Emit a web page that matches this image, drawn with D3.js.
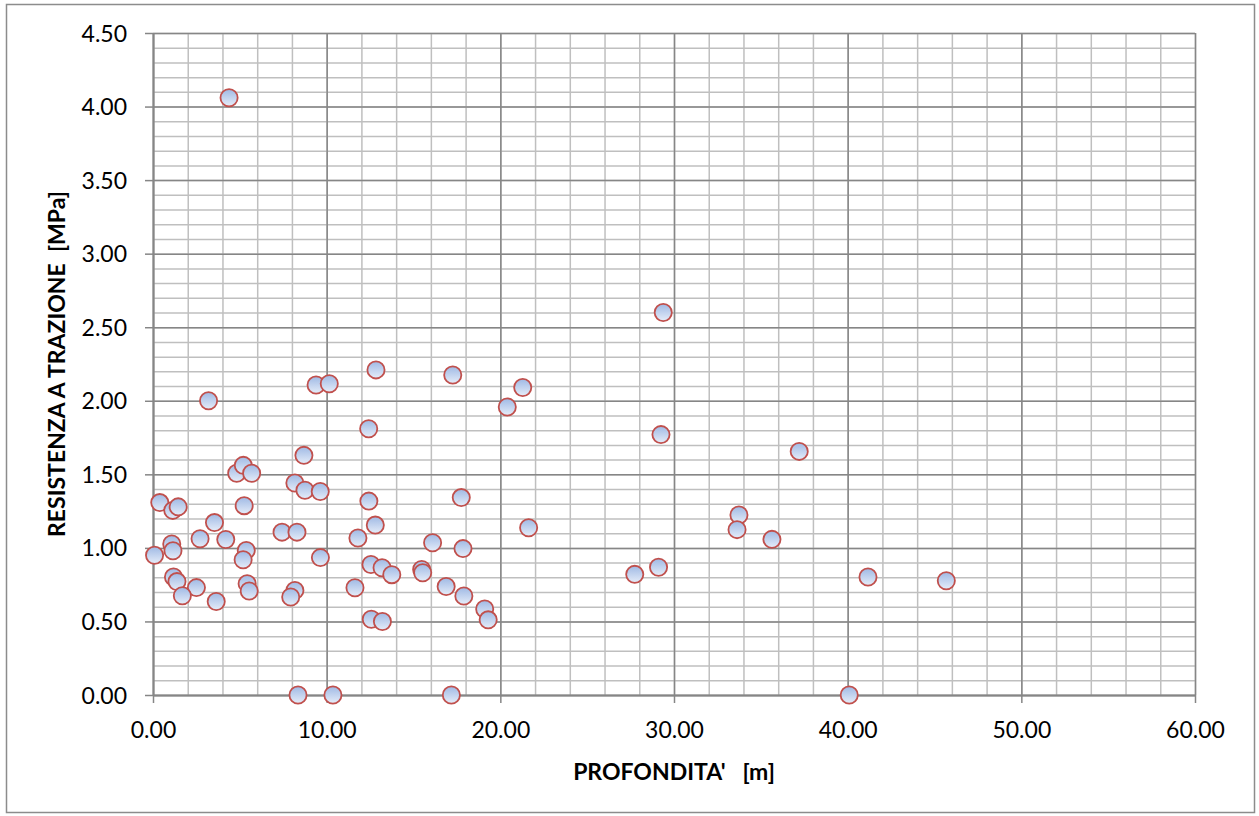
<!DOCTYPE html>
<html><head><meta charset="utf-8">
<script src="https://cdn.jsdelivr.net/npm/d3@7"></script>
<style>
html,body{margin:0;padding:0;background:#fff;}
svg{display:block;}
text{font-family:Lato,"Open Sans",sans-serif;fill:#000;}
</style></head>
<body>
<svg id="chart" width="1259" height="816"></svg>
<script>
// Data: depth [m] and tensile strength [MPa]
const depth = [4.38,29.38,12.84,17.26,9.39,10.15,21.29,3.2,20.4,12.42,29.25,37.21,8.69,4.82,5.2,5.68,8.17,8.75,9.63,17.75,
  0.39,1.14,1.45,5.25,12.43,33.74,3.54,12.8,21.63,33.63,7.43,8.29,2.71,4.19,11.8,35.64,16.1,1.08,1.15,17.85,
  0.09,5.37,5.19,9.64,12.55,13.19,29.11,13.75,15.47,15.53,27.74,41.17,45.68,1.18,1.38,2.5,1.69,3.64,5.42,5.54,
  8.17,7.93,11.63,16.88,17.9,19.1,19.3,12.57,13.21,8.35,10.36,17.18,40.09];
const strength = [4.06,2.60,2.21,2.175,2.107,2.116,2.09,2.00,1.958,1.81,1.77,1.656,1.629,1.507,1.561,1.507,1.441,1.392,1.383,1.342,
  1.308,1.255,1.279,1.287,1.318,1.224,1.172,1.155,1.137,1.124,1.107,1.107,1.062,1.057,1.067,1.058,1.035,1.026,0.981,0.995,
  0.95,0.983,0.919,0.934,0.887,0.865,0.868,0.818,0.853,0.831,0.82,0.802,0.777,0.802,0.771,0.73,0.675,0.636,0.757,0.707,
  0.711,0.666,0.729,0.738,0.673,0.585,0.511,0.515,0.5,0,0,0,0];
const xTicks = [0,10,20,30,40,50,60];
const yTicks = [0,0.5,1,1.5,2,2.5,3,3.5,4,4.5];
const xMinor = d3.range(0, 60.001, 2);
const yMinor = d3.range(0, 46).map(i => i / 10);
const xTitle = "PROFONDITA'   [m]";
const yTitle = "RESISTENZA A TRAZIONE  [MPa]";

const svg = d3.select("#chart");
const L = 153, R = 1195, T = 33, B = 695;
const x = d3.scaleLinear().domain([0, 60]).range([L, R]);
const y = d3.scaleLinear().domain([0, 4.5]).range([B, T]);

// outer border
svg.append("rect").attr("x", 6.5).attr("y", 4.5).attr("width", 1248).attr("height", 808)
  .attr("fill", "#fff").attr("stroke", "#8c8c8c").attr("stroke-width", 1.5);

const defs = svg.append("defs");
const grad = defs.append("linearGradient").attr("id", "mk").attr("x1", 0).attr("y1", 0).attr("x2", 0).attr("y2", 1);
grad.append("stop").attr("offset", "0%").attr("stop-color", "#9fb9e4");
grad.append("stop").attr("offset", "100%").attr("stop-color", "#e6edf9");

// minor grid
const gMinor = svg.append("g");
gMinor.append("g").attr("transform", `translate(0,${B})`)
  .call(d3.axisBottom(x).tickValues(xMinor).tickSize(-(B - T)).tickFormat(""))
  .call(g => { g.select(".domain").remove(); g.selectAll("line").attr("stroke", "#bfbfbf").attr("stroke-width", 1.5); });
gMinor.append("g").attr("transform", `translate(${L},0)`)
  .call(d3.axisLeft(y).tickValues(yMinor).tickSize(-(R - L)).tickFormat(""))
  .call(g => { g.select(".domain").remove(); g.selectAll("line").attr("stroke", "#bfbfbf").attr("stroke-width", 1.5); });

// major grid
const gMajor = svg.append("g");
gMajor.append("g").attr("transform", `translate(0,${B})`)
  .call(d3.axisBottom(x).tickValues(xTicks).tickSize(-(B - T)).tickFormat(""))
  .call(g => { g.select(".domain").remove(); g.selectAll("line").attr("stroke", "#868686").attr("stroke-width", 1.5); });
gMajor.append("g").attr("transform", `translate(${L},0)`)
  .call(d3.axisLeft(y).tickValues(yTicks).tickSize(-(R - L)).tickFormat(""))
  .call(g => { g.select(".domain").remove(); g.selectAll("line").attr("stroke", "#868686").attr("stroke-width", 1.5); });

// axes
const fmt = d3.format(".2f");
const xAxis = svg.append("g").attr("transform", `translate(0,${B})`)
  .call(d3.axisBottom(x).tickValues(xTicks).tickSize(8).tickSizeOuter(0).tickPadding(18).tickFormat(fmt));
const yAxis = svg.append("g").attr("transform", `translate(${L},0)`)
  .call(d3.axisLeft(y).tickValues(yTicks).tickSize(8).tickSizeOuter(0).tickPadding(18).tickFormat(fmt));
[xAxis, yAxis].forEach(a => {
  a.select(".domain").attr("stroke", "#868686").attr("stroke-width", 2);
  a.selectAll("line").attr("stroke", "#868686").attr("stroke-width", 1.5);
  a.selectAll("text").attr("font-family", "Lato, 'Open Sans', sans-serif").attr("font-size", 23).attr("fill", "#000");
});
xAxis.selectAll("text").attr("dy", null).attr("y", 43);
yAxis.selectAll("text").attr("dy", "0.35em").attr("x", -26);

// points
svg.append("g").selectAll("circle").data(depth.map((d, i) => [d, strength[i]])).join("circle")
  .attr("cx", d => x(d[0])).attr("cy", d => y(d[1])).attr("r", 8.6)
  .attr("fill", "url(#mk)").attr("stroke", "#c0504d").attr("stroke-width", 1.8);

// titles
svg.append("text").attr("x", (L + R) / 2).attr("y", 780).attr("text-anchor", "middle")
  .attr("font-size", 23).attr("font-weight", "bold").style("white-space", "pre").text(xTitle);
svg.append("text").attr("transform", `translate(65,${(T + B) / 2}) rotate(-90)`).attr("text-anchor", "middle")
  .attr("font-size", 23).attr("font-weight", "bold").style("white-space", "pre").text(yTitle);
</script>
</body></html>
